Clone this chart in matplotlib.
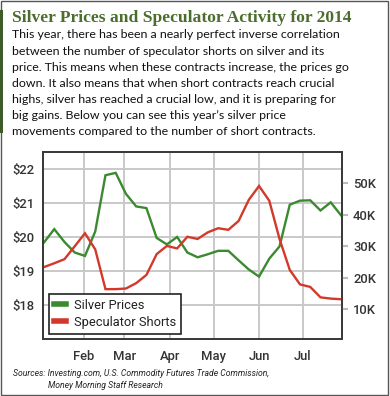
import pandas as pd
import matplotlib
matplotlib.use('Agg')
import matplotlib.pyplot as plt
import matplotlib.dates as mdates
from matplotlib.lines import Line2D
from matplotlib.patches import Rectangle
from matplotlib.ticker import FixedLocator, FuncFormatter

# weekly observations, Jan - Jul 2014
weeks = pd.date_range('2014-01-05', periods=30, freq='7D')

silver_prices = [19.85, 20.24, 19.86, 19.55, 19.45, 20.17, 21.83, 21.90, 21.28, 20.91,
                 20.86, 19.98, 19.79, 20.01, 19.55, 19.41, 19.50, 19.60, 19.60, 19.32,
                 19.05, 18.84, 19.37, 19.73, 20.96, 21.08, 21.09, 20.79, 21.03, 20.65]

# speculator short contracts, thousands
spec_shorts = [23.4, 24.6, 25.9, 30.0, 34.1, 29.0, 16.4, 16.4, 16.6, 18.3,
               20.9, 27.5, 30.1, 29.3, 33.0, 32.3, 34.4, 35.7, 35.2, 38.0,
               44.7, 49.1, 44.4, 32.3, 22.5, 17.9, 17.1, 13.8, 13.4, 13.2]

price_ticks = [18, 19, 20, 21, 22]
short_ticks = [10, 20, 30, 40, 50]

title = 'Silver Prices and Speculator Activity for 2014'
body = [
    'This year, there has been a nearly perfect inverse correlation',
    'between the number of speculator shorts on silver and its',
    'price. This means when these contracts increase, the prices go',
    'down. It also means that when short contracts reach crucial',
    'highs, silver has reached a crucial low, and it is preparing for',
    'big gains. Below you can see this year\u2019s silver price',
    'movements compared to the number of short contracts.',
]
sources = ['Sources: Investing.com, U.S. Commodity Futures Trade Commission,',
           'Money Morning Staff Research']

GREEN = '#3b8a2f'
RED = '#d2392b'
W, H = 390, 396

fig = plt.figure(figsize=(W / 100, H / 100), dpi=100)
fig.patch.set_facecolor('white')

def fy(px):
    return 1 - px / H

# frame round the graphic and the green bar at the left
fig.patches.append(Rectangle((0.5 / W, 1.5 / H), (W - 2.5) / W, (H - 2.5) / H,
                             transform=fig.transFigure, fill=False,
                             edgecolor='#555555', lw=1.0))
fig.patches.append(Rectangle((0, fy(133)), 3 / W, 123 / H,
                             transform=fig.transFigure, color='#3d5c29', lw=0))

fig.text(12 / W, fy(22.5), title, family='Liberation Serif', weight='bold',
         fontsize=12.6, color='#4b6e2c', va='baseline')
for i, line in enumerate(body):
    fig.text(12 / W, fy(38.5 + 16.1 * i), line, family='Lato', fontsize=8.9,
             color='#111111', va='baseline')

ax = fig.add_axes([43 / W, 57 / H, 299 / W, 186.5 / H])
ax2 = ax.twinx()

ax.plot(weeks, silver_prices, color=GREEN, lw=1.7, solid_joinstyle='miter')
ax2.plot(weeks, spec_shorts, color=RED, lw=1.7, solid_joinstyle='miter')

ax.set_xlim(weeks[0] - pd.Timedelta(hours=17), weeks[-1] + pd.Timedelta(hours=17))
ax.set_ylim(17.0, 22.5)
ax2.set_ylim(0.6, 59.7)

ax.xaxis.set_major_locator(mdates.MonthLocator(bymonth=range(2, 8)))
ax.xaxis.set_major_formatter(mdates.DateFormatter('%b'))
ax.yaxis.set_major_locator(FixedLocator(price_ticks))
ax.yaxis.set_major_formatter(FuncFormatter(lambda v, p: '${:.0f}'.format(v)))
ax2.yaxis.set_major_locator(FixedLocator(short_ticks))
ax2.yaxis.set_major_formatter(FuncFormatter(lambda v, p: '{:.0f}K'.format(v)))

ax.tick_params(axis='both', length=0, pad=6)
ax.tick_params(axis='x', pad=8)
ax2.tick_params(axis='y', length=4, width=1.5, color='#bbbbbb', pad=4)
for lab in ax.get_xticklabels() + ax.get_yticklabels() + ax2.get_yticklabels():
    lab.set_fontfamily('Roboto')
    lab.set_fontsize(9.4)
    lab.set_color('#333333')
    lab.set_fontweight('medium')

ax.grid(True, color='#c9c9c9', lw=1.4)
ax.set_axisbelow(True)
for a in (ax, ax2):
    for s in a.spines.values():
        s.set_color('#3a3a3a')
        s.set_linewidth(1.3)

handles = [Line2D([], [], color=GREEN, lw=4), Line2D([], [], color=RED, lw=4)]
leg = ax2.legend(handles, ['Silver Prices', 'Speculator Shorts'],
                 loc='lower left', bbox_to_anchor=(0.021, 0.028), borderaxespad=0,
                 frameon=True, fancybox=False, framealpha=1, edgecolor='#222222',
                 handlelength=0.9, handletextpad=0.6, borderpad=0.4,
                 labelspacing=0.3, prop={'family': 'Roboto', 'size': 9.3})
leg.get_frame().set_linewidth(1.2)
for t in leg.get_texts():
    t.set_color('#222222')

fig.text(13 / W, fy(376.5), sources[0], family='Roboto', style='italic',
         fontsize=6.25, color='#222222', va='baseline')
fig.text(48 / W, fy(387.5), sources[1], family='Roboto', style='italic',
         fontsize=6.25, color='#222222', va='baseline')

fig.savefig('out.png', dpi=100)
